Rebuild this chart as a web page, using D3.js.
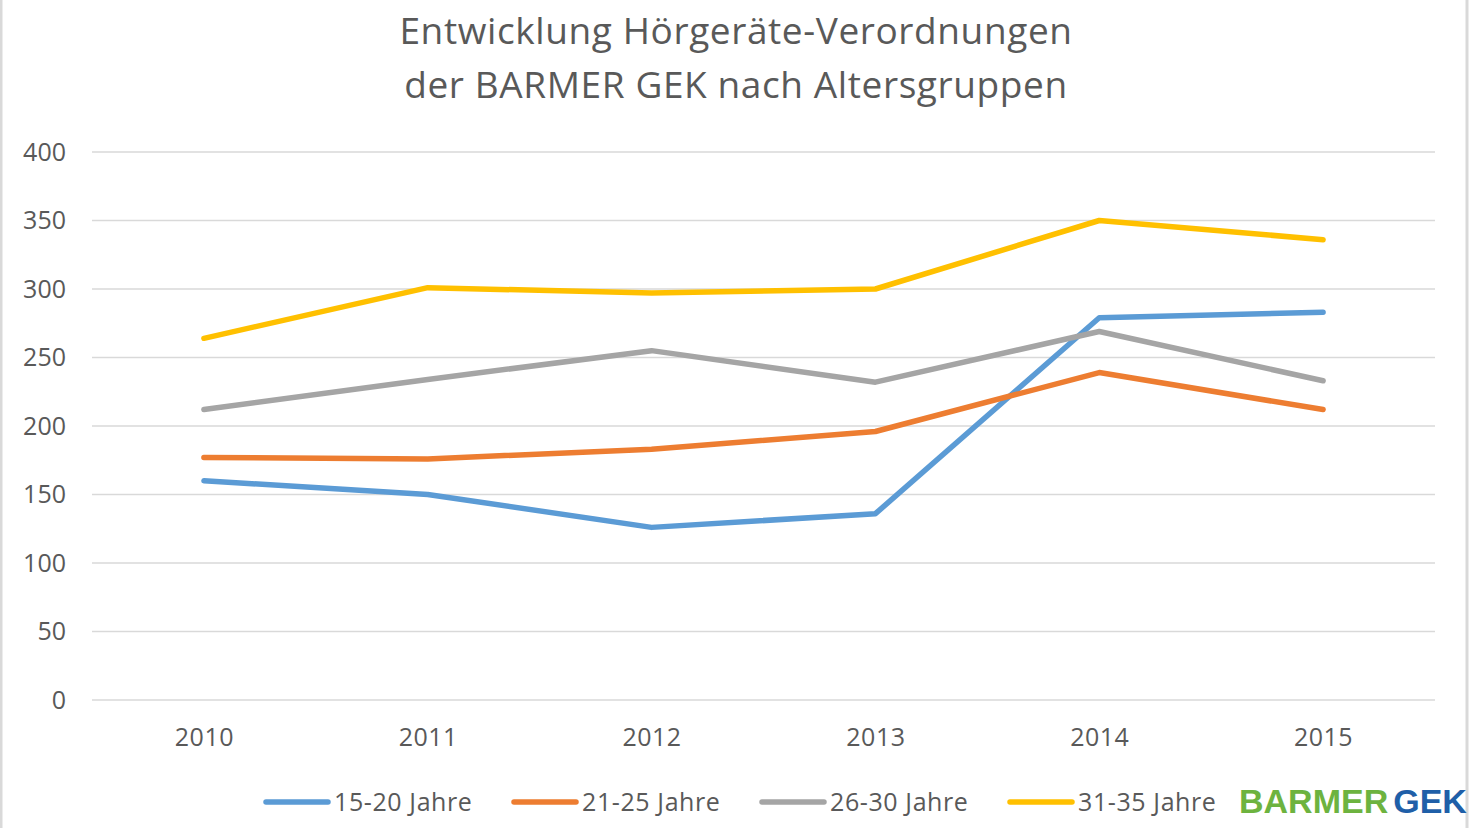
<!DOCTYPE html>
<html>
<head>
<meta charset="utf-8">
<script src="https://cdn.jsdelivr.net/npm/d3@7"></script>
<style>
  body { margin: 0; background: #fff; }
  svg { display: block; font-family: "Open Sans", "Liberation Sans", sans-serif; }
</style>
</head>
<body>
<svg id="chart" width="1472" height="828"></svg>
<script>
// Chart data
const years = ['2010', '2011', '2012', '2013', '2014', '2015'];
const seriesNames = ['15-20 Jahre', '21-25 Jahre', '26-30 Jahre', '31-35 Jahre'];
const seriesColors = ['#5b9bd5', '#ed7d31', '#a5a5a5', '#ffc000'];
const values1520 = [160, 150, 126, 136, 279, 283];
const values2125 = [177, 176, 183, 196, 239, 212];
const values2630 = [212, 234, 255, 232, 269, 233];
const values3135 = [264, 301, 297, 300, 350, 336];
const yTicks = [0, 50, 100, 150, 200, 250, 300, 350, 400];

const allValues = [values1520, values2125, values2630, values3135];

const svg = d3.select('#chart');

// Outer frame
svg.append('rect')
    .attr('x', 1).attr('y', -2)
    .attr('width', 1466).attr('height', 832)
    .attr('fill', 'none')
    .attr('stroke', '#d9d9d9')
    .attr('stroke-width', 3);

// Title
const title = svg.append('text')
    .attr('text-anchor', 'middle')
    .attr('fill', '#595959')
    .attr('font-size', 37)
    .attr('letter-spacing', 0.6);
title.append('tspan').attr('x', 736).attr('y', 44).text('Entwicklung Hörgeräte-Verordnungen');
title.append('tspan').attr('x', 736).attr('y', 98).text('der BARMER GEK nach Altersgruppen');

// Scales
const x = d3.scalePoint().domain(years).range([92, 1435]).padding(0.5);
const y = d3.scaleLinear().domain([0, 400]).range([700, 152]);

// Gridlines
svg.append('g')
    .selectAll('line')
    .data(yTicks)
    .join('line')
    .attr('x1', 92).attr('x2', 1435)
    .attr('y1', d => y(d)).attr('y2', d => y(d))
    .attr('stroke', '#d9d9d9')
    .attr('stroke-width', 1.3);

// Y axis labels
const yAxis = svg.append('g')
    .attr('transform', 'translate(66,0)')
    .call(d3.axisLeft(y).tickValues(yTicks).tickSize(0).tickPadding(0));
yAxis.select('.domain').remove();
yAxis.selectAll('text')
    .attr('font-family', '"Open Sans", "Liberation Sans", sans-serif')
    .attr('font-size', 25)
    .attr('fill', '#595959');

// X axis labels
const xAxis = svg.append('g')
    .attr('transform', 'translate(0,728)')
    .call(d3.axisBottom(x).tickSize(0).tickPadding(0));
xAxis.select('.domain').remove();
xAxis.selectAll('text')
    .attr('font-family', '"Open Sans", "Liberation Sans", sans-serif')
    .attr('font-size', 25)
    .attr('letter-spacing', 0.5)
    .attr('fill', '#595959');

// Lines
const line = d3.line()
    .x((d, i) => x(years[i]))
    .y(d => y(d));

svg.append('g')
    .selectAll('path')
    .data(allValues)
    .join('path')
    .attr('d', d => line(d))
    .attr('fill', 'none')
    .attr('stroke', (d, i) => seriesColors[i])
    .attr('stroke-width', 5.5)
    .attr('stroke-linejoin', 'round')
    .attr('stroke-linecap', 'round');

// Legend
const legendX = [266, 514, 762, 1010];
const legend = svg.append('g')
    .selectAll('g')
    .data(seriesNames)
    .join('g')
    .attr('transform', (d, i) => `translate(${legendX[i]},802)`);
legend.append('line')
    .attr('x1', 0).attr('x2', 62)
    .attr('stroke', (d, i) => seriesColors[i])
    .attr('stroke-width', 5.5)
    .attr('stroke-linecap', 'round');
legend.append('text')
    .attr('x', 68).attr('y', 9)
    .attr('font-size', 25)
    .attr('letter-spacing', 0.6)
    .attr('fill', '#595959')
    .text(d => d);

// Logo
const logo = svg.append('text')
    .attr('x', 1239).attr('y', 813)
    .attr('font-family', '"Liberation Sans", Arial, sans-serif')
    .attr('font-weight', 'bold')
    .attr('font-size', 34);
logo.append('tspan').attr('fill', '#6db33f').text('BARMER');
logo.append('tspan').attr('fill', '#1f5fa8').attr('dx', 5).text('GEK');
</script>
</body>
</html>
